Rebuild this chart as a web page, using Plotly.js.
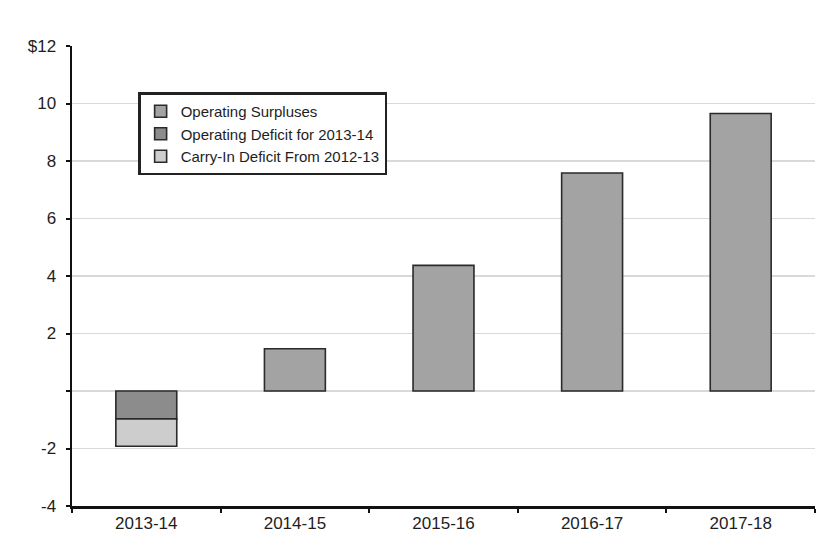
<!DOCTYPE html>
<html>
<head>
<meta charset="utf-8">
<script src="https://cdn.plot.ly/plotly-3.0.1.min.js"></script>
<style>
  html, body { margin: 0; padding: 0; background: #ffffff; }
  #chart { width: 835px; height: 560px; }
</style>
</head>
<body>
<div id="chart"></div>
<script>
// Data (billions of dollars)
const categories = ["2013-14", "2014-15", "2015-16", "2016-17", "2017-18"];
const operatingSurpluses = [null, 1.47, 4.37, 7.58, 9.65];
const operatingDeficit = [-0.97, null, null, null, null];
const carryInDeficit = [-0.95, null, null, null, null];
const yTickVals = [-4, -2, 0, 2, 4, 6, 8, 10, 12];
const yTickText = ["-4", "-2", "", "2", "4", "6", "8", "10", "$12"];
const seriesNames = ["Operating Surpluses", "Operating Deficit for 2013-14", "Carry-In Deficit From 2012-13"];

const lineStyle = { color: "#2a2a2a", width: 1.6 };

const traces = [
  { type: "bar", name: seriesNames[0], x: categories, y: operatingSurpluses,
    marker: { color: "#a3a3a3", line: lineStyle } },
  { type: "bar", name: seriesNames[1], x: categories, y: operatingDeficit,
    marker: { color: "#8c8c8c", line: lineStyle } },
  { type: "bar", name: seriesNames[2], x: categories, y: carryInDeficit,
    marker: { color: "#cdcdcd", line: lineStyle } }
];

const layout = {
  width: 835, height: 560,
  margin: { l: 72, r: 20, t: 46, b: 54 },
  paper_bgcolor: "#ffffff",
  plot_bgcolor: "#ffffff",
  barmode: "relative",
  bargap: 0.59,
  font: { family: "Liberation Sans, Arial, sans-serif", color: "#1e1e1e", size: 16 },
  xaxis: {
    type: "category",
    range: [-0.5, 4.5],
    showline: true, linecolor: "#111111", linewidth: 2.5,
    ticks: "outside", ticklen: 4, tickwidth: 2, tickcolor: "#111111",
    tickson: "boundaries",
    showgrid: false, zeroline: false,
    tickfont: { size: 17 }
  },
  yaxis: {
    range: [-4, 12],
    tickvals: yTickVals, ticktext: yTickText,
    showline: true, linecolor: "#111111", linewidth: 2.5,
    ticks: "outside", ticklen: 4, tickwidth: 2, tickcolor: "#111111",
    showgrid: true, gridcolor: "#d9d9d9", gridwidth: 1.5,
    zeroline: false,
    tickfont: { size: 17 },
    ticklabelstandoff: 6
  },
  showlegend: true,
  legend: {
    x: 0.089, y: 0.899, xanchor: "left", yanchor: "top",
    bgcolor: "#ffffff", bordercolor: "#222222", borderwidth: 2.5,
    font: { size: 15, color: "#1e1e1e" },
    traceorder: "normal",
    itemwidth: 30,
    tracegroupgap: 0
  }
};

Plotly.newPlot("chart", traces, layout, { staticPlot: true, displayModeBar: false });
</script>
</body>
</html>
